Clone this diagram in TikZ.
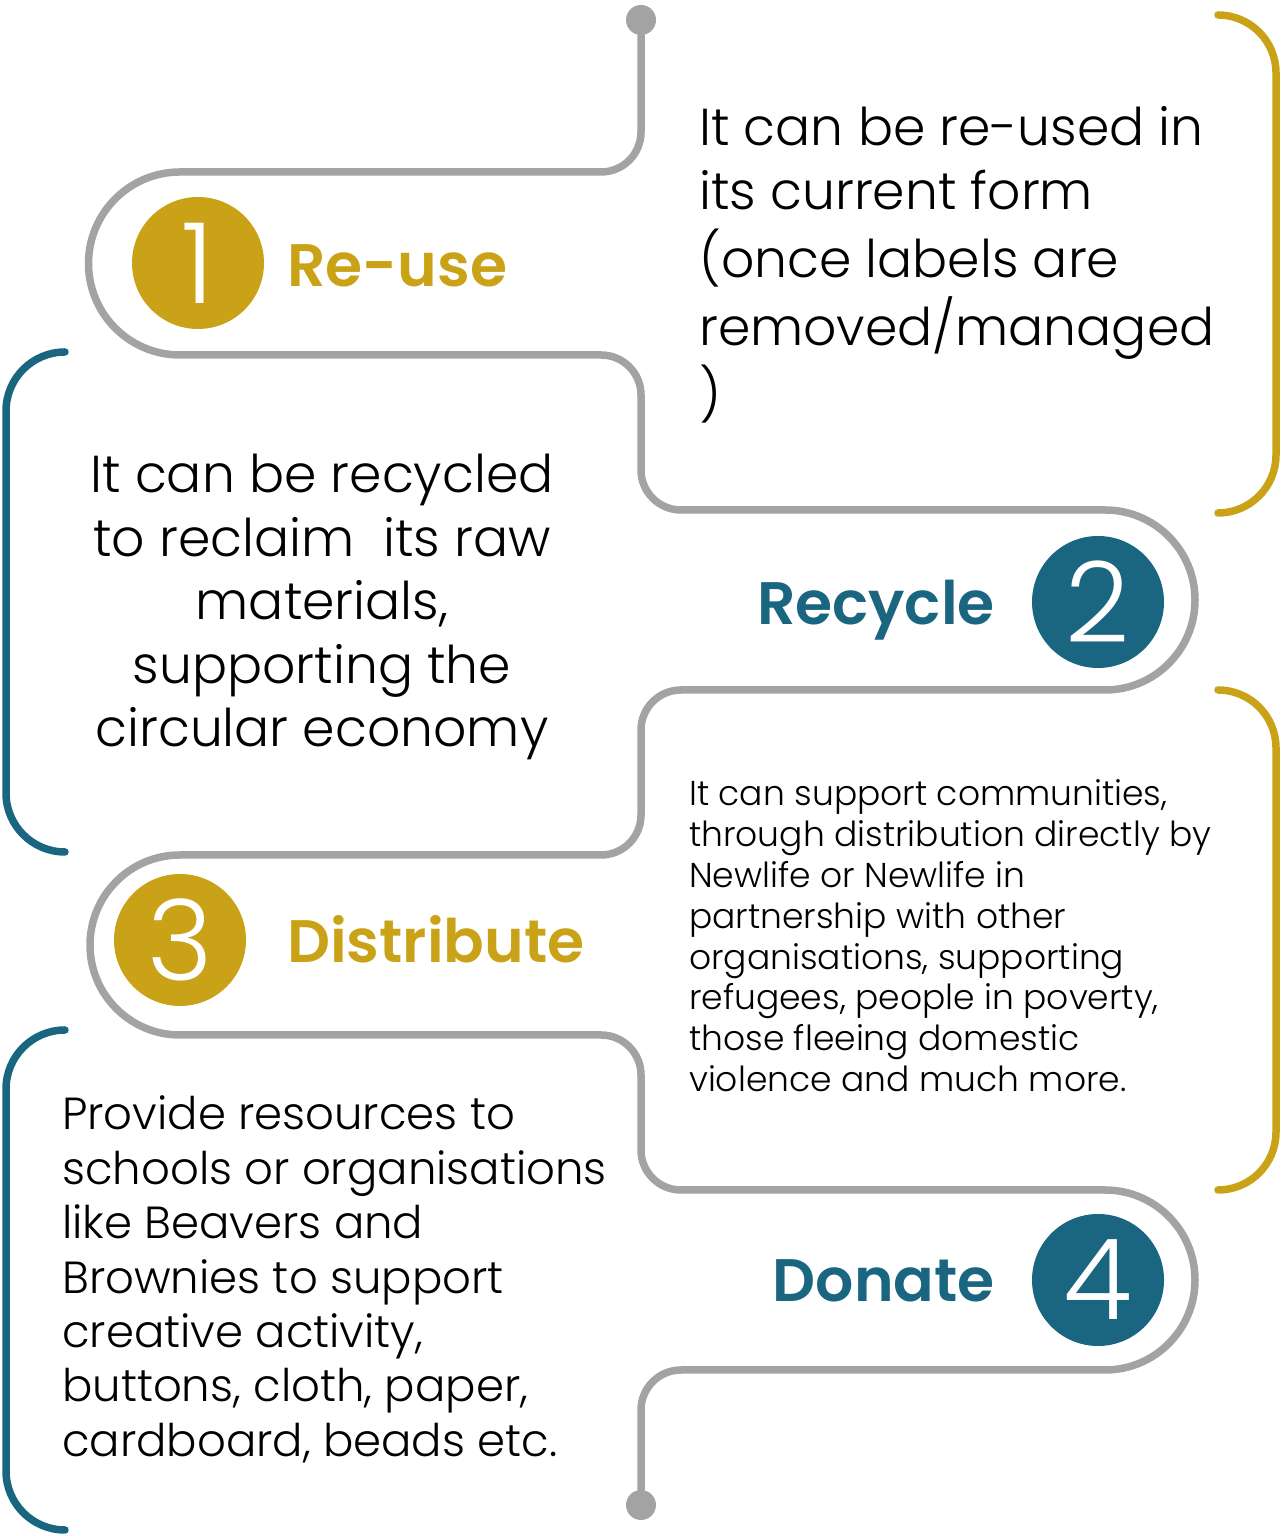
\documentclass[tikz,border=0pt]{standalone}
\usepackage{fontspec}
\setmainfont{Poppins}
\IfFontExistsTF{Poppins Light}{\newfontfamily\bodyf{Poppins Light}}{\newfontfamily\bodyf{Poppins}}
\IfFontExistsTF{Poppins SemiBold}{\newfontfamily\labf{Poppins SemiBold}}{\newfontfamily\labf{Poppins}[UprightFont=*,UprightFeatures={FakeBold=1.5}]}
\definecolor{gold}{HTML}{CAA218}
\definecolor{teal}{HTML}{1A6580}
\definecolor{pathgray}{HTML}{A3A3A3}
\tikzset{
  pathline/.style={draw=pathgray, line width=7.5pt, line cap=round, line join=round},
  bracket/.style={line width=7.5pt, line cap=round},
  enddot/.style={circle, fill=pathgray, minimum size=30pt, inner sep=0pt},
  numc/.style={circle, minimum size=132pt, inner sep=0pt, text=white, font=\bodyf\fontsize{112}{112}\selectfont},
  lab/.style={inner sep=0pt, font=\labf\fontsize{60}{60}\selectfont},
  body/.style={inner sep=0pt}
}
\begin{document}
\begin{tikzpicture}[x=1pt,y=1pt]
\useasboundingbox (0,0) rectangle (1282,1536);
% end dots
\node[enddot] (top) at (641,1516) {};
\node[enddot] (bot) at (641,31) {};
% winding path
\draw[pathline] (top) -- (641,1404) arc(0:-90:40) -- (180,1364) arc(90:270:91.5)
  -- (601,1181) arc(90:0:40) -- (641,1066) arc(180:270:40) -- (1105,1026) arc(90:-90:90)
  -- (681,846) arc(90:180:40) -- (641,721) arc(0:-90:40) -- (180,681) arc(90:270:90)
  -- (601,501) arc(90:0:40) -- (641,386) arc(180:270:40) -- (1105,346) arc(90:-90:90)
  -- (681,166) arc(90:180:40) -- (bot);
% brackets
\draw[bracket, draw=gold] (1218,1521) arc(90:0:58) -- (1276,1081) arc(0:-90:58);
\draw[bracket, draw=gold] (1218,846) arc(90:0:58) -- (1276,404) arc(0:-90:58);
\draw[bracket, draw=teal] (65,1184) arc(90:180:59) -- (6,743) arc(180:270:59);
\draw[bracket, draw=teal] (65,506) arc(90:180:59) -- (6,65) arc(180:270:59);
% numbered circles
\node[numc, fill=gold] (n1) at (198,1273) {1};
\node[numc, fill=teal] (n2) at (1098,934) {2};
\node[numc, fill=gold] (n3) at (180,596) {3};
\node[numc, fill=teal] (n4) at (1098,256) {4};
% labels
\node[lab, text=gold, anchor=base west] (l1) at (287,1249) {Re-use};
\node[lab, text=teal, anchor=base east] (l2) at (995,911) {Recycle};
\node[lab, text=gold, anchor=base west] (l3) at (287,573) {Distribute};
\node[lab, text=teal, anchor=base east] (l4) at (995,234) {Donate};
% texts
\node[body, anchor=base west, font=\bodyf\fontsize{52}{63.7}\selectfont] (t1) at (699,1390)
  {\begin{tabular}[t]{@{}l@{}}It can be re-used in\\its current form\\(once labels are\\removed/managed\\)\end{tabular}};
\node[body, anchor=base, font=\bodyf\fontsize{52}{63.5}\selectfont] (t2) at (322,1043)
  {\begin{tabular}[t]{@{}c@{}}It can be recycled\\to reclaim\ \ its raw\\materials,\\supporting the\\circular economy\end{tabular}};
\node[body, anchor=base west, font=\bodyf\fontsize{34.5}{40.8}\selectfont] (t3) at (689,730)
  {\begin{tabular}[t]{@{}l@{}}It can support communities,\\through distribution directly by\\Newlife or Newlife in\\partnership with other\\organisations, supporting\\refugees, people in poverty,\\those fleeing domestic\\violence and much more.\end{tabular}};
\node[body, anchor=base west, font=\bodyf\fontsize{45}{54.4}\selectfont] (t4) at (62,406)
  {\begin{tabular}[t]{@{}l@{}}Provide resources to\\schools or organisations\\like Beavers and\\Brownies to support\\creative activity,\\buttons, cloth, paper,\\cardboard, beads etc.\end{tabular}};
\end{tikzpicture}
\end{document}
